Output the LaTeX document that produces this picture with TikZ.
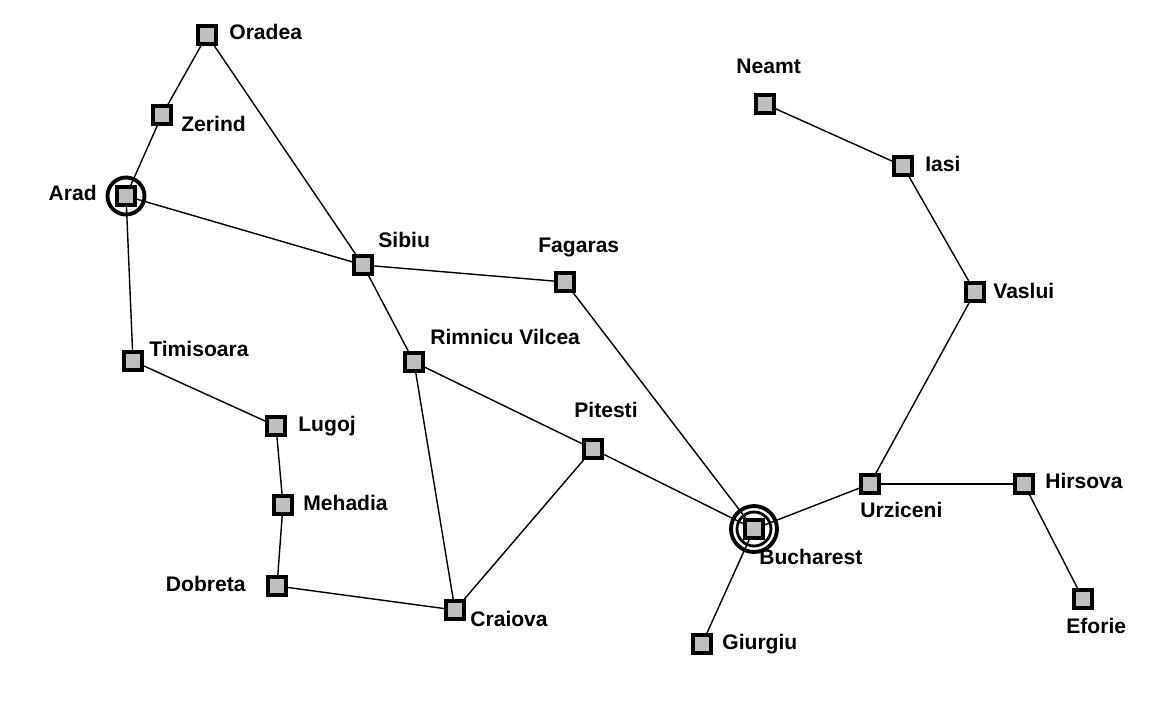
\documentclass[tikz,border=0pt]{standalone}
\usepackage{fontspec}
\setmainfont{Liberation Sans}
\tikzset{
  city/.style={draw=black, fill=black!25, line width=2.4pt, minimum size=0.35cm, inner sep=0pt},
  cityname/.style={font=\fontsize{12}{14}\selectfont\bfseries, inner sep=0pt, text height=1.6ex, text depth=0pt},
  road/.style={line width=0.8pt}
}
\begin{document}
\begin{tikzpicture}[x=0.02cm, y=-0.02cm]
      \useasboundingbox (0,0) rectangle (1167,701);
      % cities
      \node[city] (oradea) at (207,35) {};
      \node[city] (zerind) at (162,115) {};
      \node[city] (arad) at (126,196) {};
      \node[city] (sibiu) at (363,265) {};
      \node[city] (fagaras) at (565,282) {};
      \node[city] (timisoara) at (133,361) {};
      \node[city] (lugoj) at (276,426) {};
      \node[city] (mehadia) at (283,505) {};
      \node[city] (dobreta) at (277,586) {};
      \node[city] (craiova) at (455,610) {};
      \node[city] (rimnicu) at (414,362) {};
      \node[city] (pitesti) at (593,449) {};
      \node[city] (bucharest) at (754,529) {};
      \node[city] (giurgiu) at (702,644) {};
      \node[city] (urziceni) at (870,484) {};
      \node[city] (hirsova) at (1024,484) {};
      \node[city] (eforie) at (1083,599) {};
      \node[city] (vaslui) at (975,292) {};
      \node[city] (iasi) at (903,166) {};
      \node[city] (neamt) at (765,104) {};
      % start and goal
      \draw[line width=2.2pt] (arad) circle (0.37cm);
      \draw[line width=2.2pt] (bucharest) circle (0.46cm);
      \draw[line width=1.6pt] (bucharest) circle (0.34cm);
      % roads
      \begin{scope}[road]
      \draw (oradea) -- (zerind);
      \draw (oradea) -- (sibiu);
      \draw (zerind) -- (arad);
      \draw (arad) -- (sibiu);
      \draw (arad) -- (timisoara);
      \draw (timisoara) -- (lugoj);
      \draw (lugoj) -- (mehadia);
      \draw (mehadia) -- (dobreta);
      \draw (dobreta) -- (craiova);
      \draw (craiova) -- (rimnicu);
      \draw (craiova) -- (pitesti);
      \draw (sibiu) -- (rimnicu);
      \draw (sibiu) -- (fagaras);
      \draw (fagaras) -- (bucharest);
      \draw (rimnicu) -- (pitesti);
      \draw (pitesti) -- (bucharest);
      \draw (bucharest) -- (giurgiu);
      \draw (bucharest) -- (urziceni);
      \draw (urziceni) -- (hirsova);
      \draw (hirsova) -- (eforie);
      \draw (urziceni) -- (vaslui);
      \draw (vaslui) -- (iasi);
      \draw (iasi) -- (neamt);
      \end{scope}
      % names
      \node[cityname, anchor=west] (oradea-l) at (229,32) {Oradea};
      \node[cityname, anchor=west] (zerind-l) at (181,124) {Zerind};
      \node[cityname, anchor=east] (arad-l) at (97,193) {Arad};
      \node[cityname, anchor=west] (sibiu-l) at (378,240) {Sibiu};
      \node[cityname, anchor=west] (fagaras-l) at (538,245) {Fagaras};
      \node[cityname, anchor=west] (timisoara-l) at (149,349) {Timisoara};
      \node[cityname, anchor=west] (lugoj-l) at (298,424) {Lugoj};
      \node[cityname, anchor=west] (mehadia-l) at (303,503) {Mehadia};
      \node[cityname, anchor=east] (dobreta-l) at (246,584) {Dobreta};
      \node[cityname, anchor=west] (craiova-l) at (470,619) {Craiova};
      \node[cityname, anchor=west] (rimnicu-l) at (430,337) {Rimnicu Vilcea};
      \node[cityname, anchor=west] (pitesti-l) at (574,410) {Pitesti};
      \node[cityname, anchor=west] (bucharest-l) at (759,557) {Bucharest};
      \node[cityname, anchor=west] (giurgiu-l) at (722,642) {Giurgiu};
      \node[cityname, anchor=west] (urziceni-l) at (860,510) {Urziceni};
      \node[cityname, anchor=west] (hirsova-l) at (1045,481) {Hirsova};
      \node[cityname, anchor=west] (eforie-l) at (1066,626) {Eforie};
      \node[cityname, anchor=west] (vaslui-l) at (993,291) {Vaslui};
      \node[cityname, anchor=west] (iasi-l) at (925,164) {Iasi};
      \node[cityname, anchor=west] (neamt-l) at (736,66) {Neamt};
    \end{tikzpicture}
\end{document}
